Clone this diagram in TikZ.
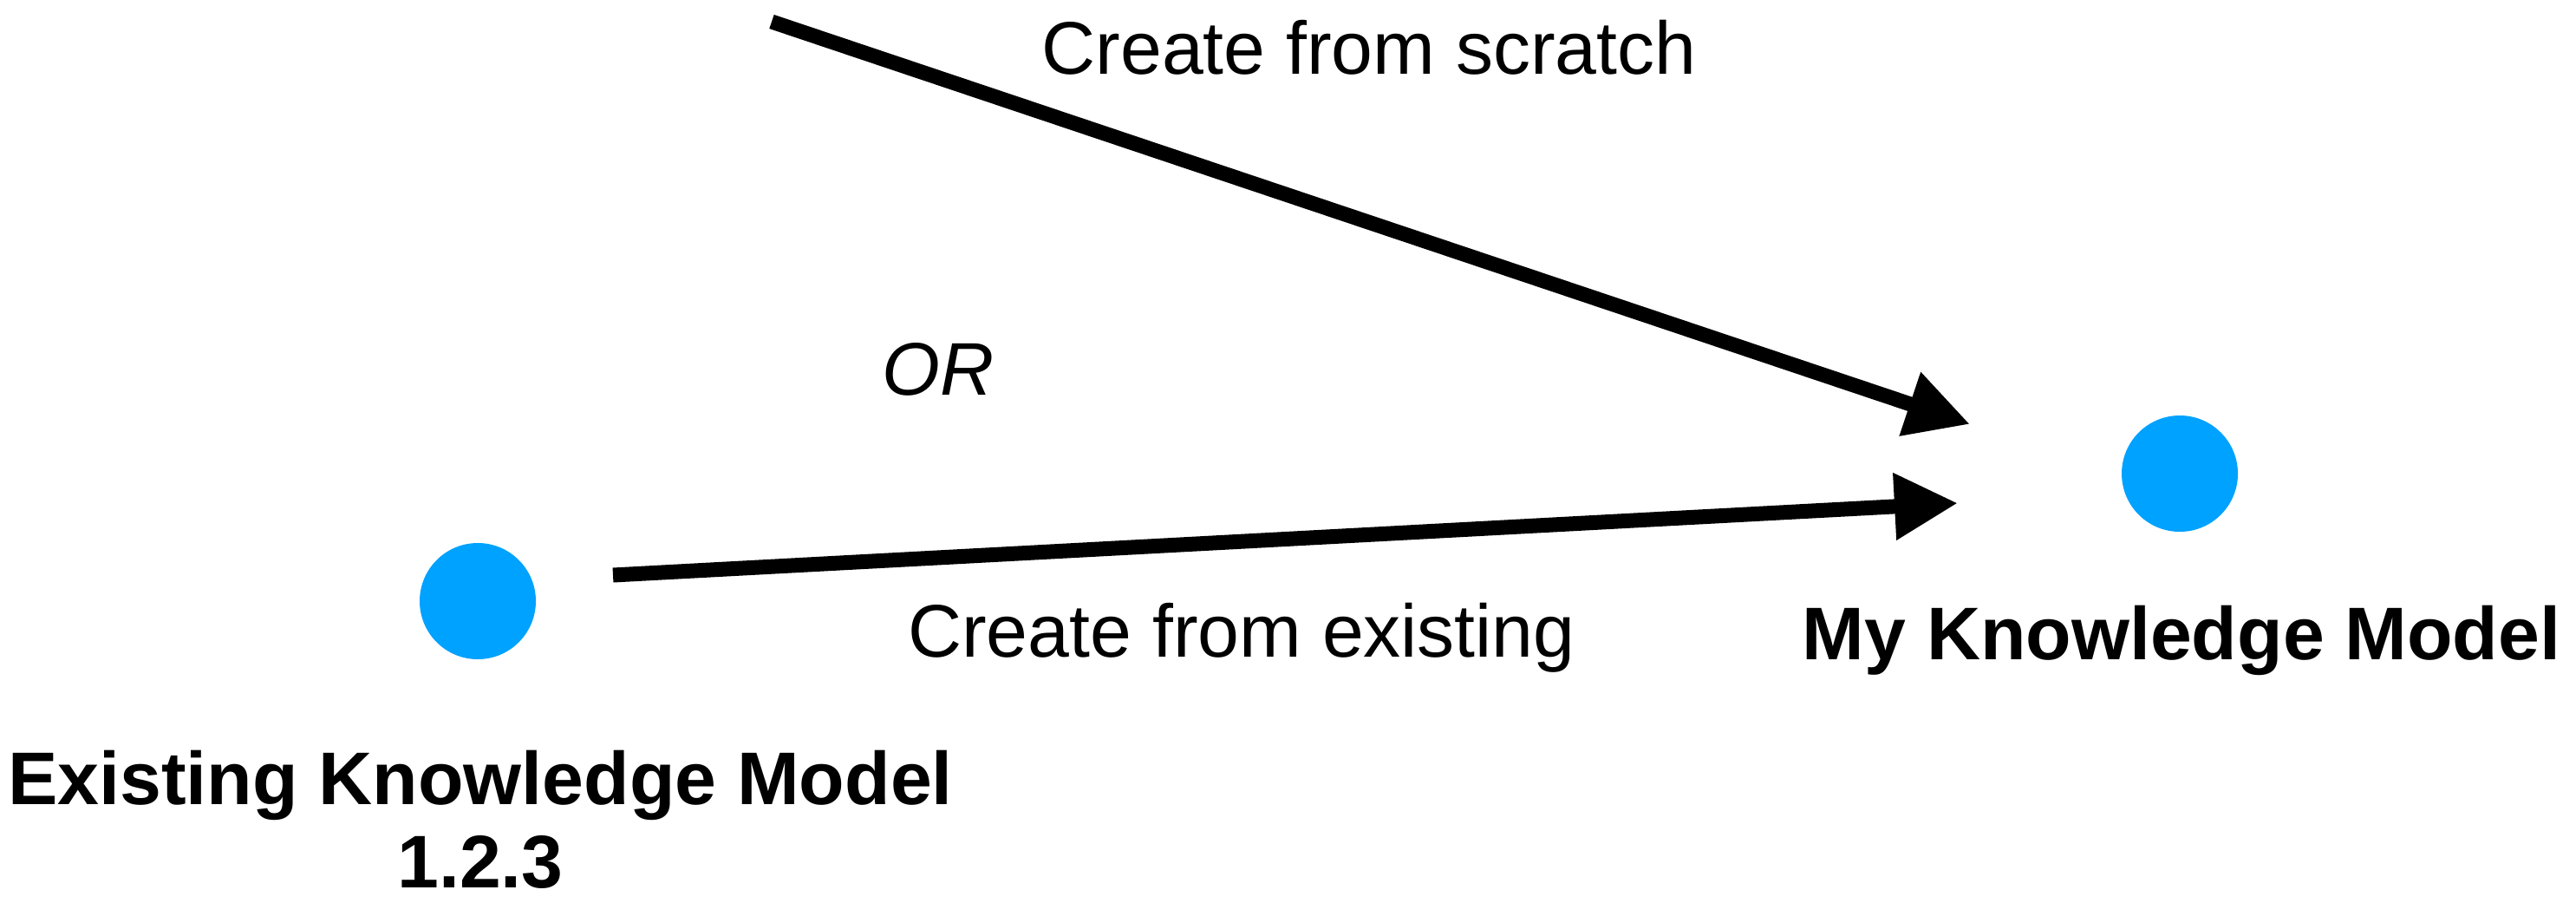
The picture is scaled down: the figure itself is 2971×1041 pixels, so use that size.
\documentclass[tikz,border=0pt]{standalone}
\usepackage{fontspec}
\setmainfont{Liberation Sans}
\usetikzlibrary{arrows.meta}
\definecolor{kmblue}{RGB}{0,162,255}
\begin{document}
\begin{tikzpicture}[x=1pt,y=-1pt,
  kmdot/.style={circle,fill=kmblue,minimum size=134pt,inner sep=0pt},
  flow/.style={line width=17pt,-{Triangle[length=73pt,width=73pt]}},
  lbl/.style={inner sep=0pt,anchor=base,font=\fontsize{86}{96}\selectfont},
  title/.style={lbl,font=\fontsize{86}{96}\selectfont\bfseries,align=center}]
  \useasboundingbox (0,0) rectangle (2971,1041);

  % knowledge models
  \node[kmdot] (existing) at (551,693) {};
  \node[kmdot] (mine) at (2514,546) {};

  % arrow ends
  \coordinate (scratchstart) at (890,25);
  \coordinate (scratchend) at (2272,489);
  \coordinate (copystart) at (707,663);
  \coordinate (copyend) at (2258,580);

  \draw[flow] (scratchstart) -- (scratchend);
  \draw[flow] (copystart) -- (copyend);

  % labels
  \node[lbl] (lscratch) at (1579,85) {Create from scratch};
  \node[lbl,font=\fontsize{86}{96}\selectfont\itshape] (lor) at (1082,455) {OR};
  \node[lbl] (lcopy) at (1432,757) {Create from existing};
  \node[title] (tmine) at (2516,760) {My Knowledge Model};
  % two-line title: the base anchor sits on the last line
  \node[title] (texisting) at (554,1023) {Existing Knowledge Model\\1.2.3};
\end{tikzpicture}
\end{document}
